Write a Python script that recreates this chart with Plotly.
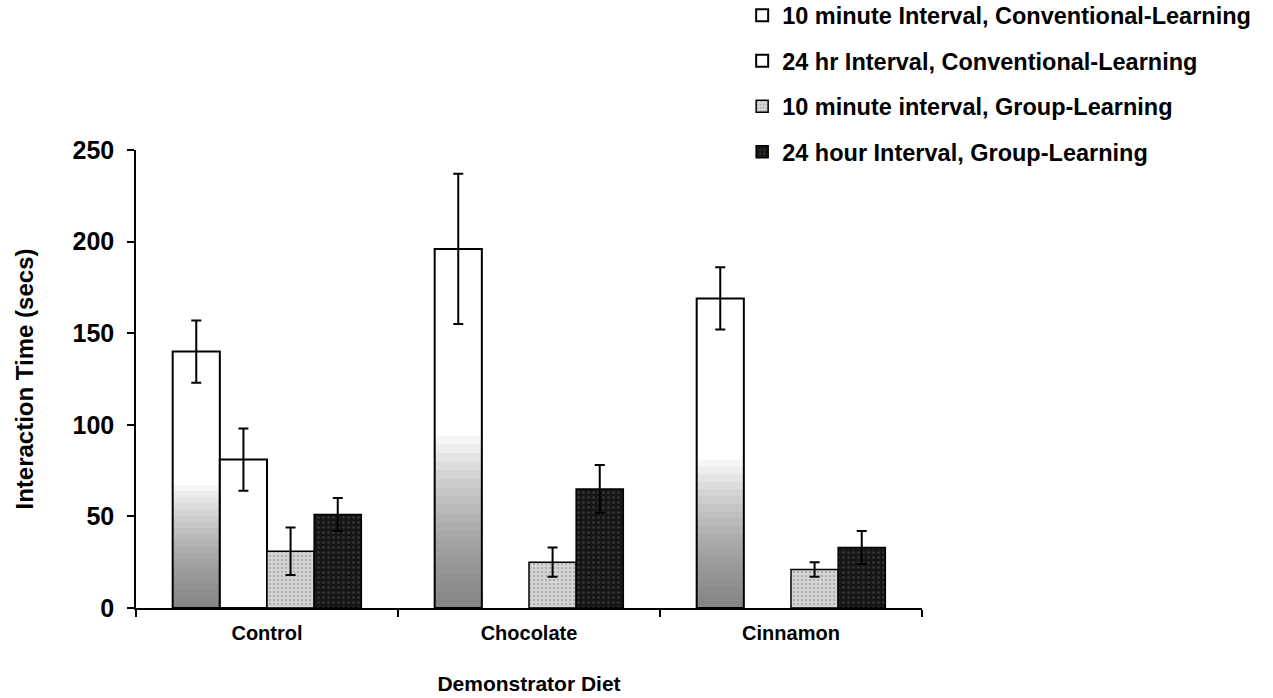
import plotly.graph_objects as go

categories = ["Control", "Chocolate", "Cinnamon"]
series_names = [
    "10 minute Interval, Conventional-Learning",
    "24 hr Interval, Conventional-Learning",
    "10 minute interval, Group-Learning",
    "24 hour Interval, Group-Learning",
]
conv_10min = [140, 196, 169]
conv_10min_err = [17, 41, 17]
conv_24hr = [81, None, None]
conv_24hr_err = [17, None, None]
group_10min = [31, 25, 21]
group_10min_err = [13, 8, 4]
group_24hr = [51, 65, 33]
group_24hr_err = [9, 13, 9]

FONT = "Arial, 'Liberation Sans', sans-serif"
BAR_W = 0.18
OFFSETS = [-0.36, -0.18, 0.0, 0.18]

fig = go.Figure()

def err(arr):
    return dict(type="data", array=arr, visible=True, color="black", thickness=2, width=5)

# gradient shading layers drawn inside the first series' bars
N_LAYERS = 20
GRAD_FRAC = 0.48
for k in range(1, N_LAYERS + 1):
    frac = GRAD_FRAC * k / N_LAYERS
    fig.add_trace(go.Bar(
        x=categories, y=[v * frac for v in conv_10min],
        width=BAR_W, offset=OFFSETS[0],
        marker=dict(color="rgba(80,80,80,0.05)", line=dict(width=0)),
        showlegend=False, hoverinfo="skip",
    ))

fig.add_trace(go.Bar(
    x=categories, y=conv_10min, name=series_names[0],
    width=BAR_W, offset=OFFSETS[0],
    marker=dict(color="rgba(255,255,255,0)", line=dict(color="black", width=2)),
    error_y=err(conv_10min_err), legendgroup="a", legendrank=1,
))
fig.add_trace(go.Bar(
    x=categories, y=conv_24hr, name=series_names[1],
    width=BAR_W, offset=OFFSETS[1],
    marker=dict(color="white", line=dict(color="black", width=2)),
    error_y=err(conv_24hr_err), legendgroup="b", legendrank=2,
))
fig.add_trace(go.Bar(
    x=categories, y=group_10min, name=series_names[2],
    width=BAR_W, offset=OFFSETS[2],
    marker=dict(color="#d6d6d6", line=dict(color="black", width=1.5),
                pattern=dict(shape=".", fgcolor="#8a8a8a", size=4, solidity=0.3)),
    error_y=err(group_10min_err), legendgroup="c", legendrank=3,
))
fig.add_trace(go.Bar(
    x=categories, y=group_24hr, name=series_names[3],
    width=BAR_W, offset=OFFSETS[3],
    marker=dict(color="#161616", line=dict(color="black", width=1.5),
                pattern=dict(shape=".", fgcolor="#5a5a5a", size=5, solidity=0.2)),
    error_y=err(group_24hr_err), legendgroup="d", legendrank=4,
))

fig.update_layout(
    width=1273, height=698,
    barmode="overlay",
    plot_bgcolor="white", paper_bgcolor="white",
    margin=dict(l=136, r=351, t=150, b=90, autoexpand=False),
    font=dict(family=FONT, color="black"),
    legend=dict(
        x=0.583, xanchor="left", xref="container",
        y=1.342, yanchor="top", yref="paper",
        font=dict(family=FONT, size=23.5, color="black", weight="bold"),
        traceorder="grouped", tracegroupgap=12,
        bgcolor="rgba(0,0,0,0)",
    ),
    xaxis=dict(
        showline=True, linecolor="black", linewidth=1.5,
        ticks="outside", tickson="boundaries", ticklen=7, tickwidth=1.5, tickcolor="black",
        tickfont=dict(family=FONT, size=20, weight="bold"),
        ticklabelstandoff=6,
        showgrid=False,
        title=dict(text="Demonstrator Diet", font=dict(family=FONT, size=21, weight="bold"), standoff=34),
    ),
    yaxis=dict(
        range=[0, 250], dtick=50,
        showline=True, linecolor="black", linewidth=1.5,
        ticks="outside", ticklen=7, tickwidth=1.5, tickcolor="black",
        tickfont=dict(family=FONT, size=25, weight="bold"),
        ticklabelstandoff=8,
        showgrid=False, zeroline=False,
        title=dict(text="Interaction Time (secs)", font=dict(family=FONT, size=24, weight="bold"), standoff=32),
    ),
)

fig.write_html("out.html")
